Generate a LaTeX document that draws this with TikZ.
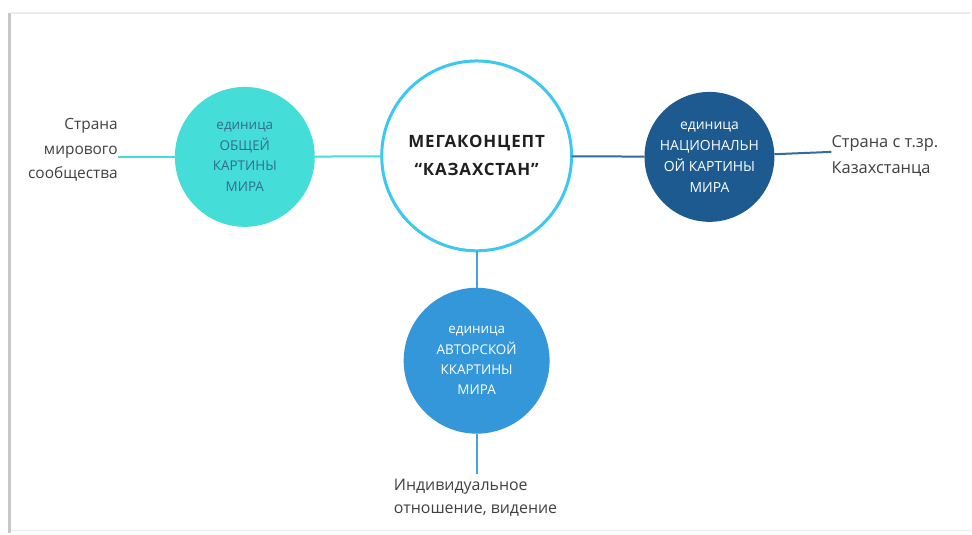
\documentclass[tikz,border=0pt]{standalone}
\usepackage{fontspec}
\setmainfont{Open Sans}
\usepackage{tkz-graph}

\definecolor{turq}{HTML}{45DDD8}
\definecolor{natblue}{HTML}{1C5A8F}
\definecolor{avtblue}{HTML}{3497D9}
\definecolor{megaring}{HTML}{3DC9EF}
\definecolor{obshtext}{HTML}{336C8C}
\definecolor{labgray}{HTML}{404040}

\begin{document}
\begin{tikzpicture}[x=1bp,y=-1bp]
\def \midy {156}
\tikzset{labeltext/.style = {inner sep=0pt, text=labgray, font=\fontsize{15.5}{25}\selectfont}}
% page
\fill[white] (0,0) rectangle (972,533);
\draw[line width=3bp, black!22] (10,13) -- (10,533);
\draw[line width=1.5bp, black!7] (11,13) -- (972,13);
\draw[black!8] (11,531) -- (972,531);
\useasboundingbox (0,0) rectangle (972,533);
%\draw[help lines, step=50] (0,0) grid (972,533);

   \tikzset{VertexStyle/.style = {shape = circle, draw = megaring, line width = 3bp, fill = white, minimum size = 190bp, inner sep = 0pt, align = center, text = black!88, font = \bfseries\fontsize{17}{28}\selectfont\addfontfeature{LetterSpace=5}}}
   \Vertex[x=477 ,y=\midy ,L={МЕГАКОНЦЕПТ\\“КАЗАХСТАН”}]{mega}
   \tikzset{VertexStyle/.style = {shape = circle, fill = turq, minimum size = 140bp, inner sep = 0pt, align = center, text = obshtext, font = \fontsize{13.5}{20.5}\selectfont}}
   \Vertex[x=245 ,y=157 ,L={единица\\ОБЩЕЙ\\КАРТИНЫ\\МИРА}]{obsh}
   \tikzset{VertexStyle/.style = {shape = circle, fill = natblue, minimum size = 130bp, inner sep = 0pt, align = center, text = white, font = \fontsize{14}{21}\selectfont}}
   \Vertex[x=710 ,y=157 ,L={единица\\НАЦИОНАЛЬН\\ОЙ КАРТИНЫ\\МИРА}]{nat}
   \tikzset{VertexStyle/.style = {shape = circle, fill = avtblue, minimum size = 146bp, inner sep = 0pt, align = center, text = white, font = \fontsize{13.5}{20.5}\selectfont}}
   \Vertex[x=477 ,y=361 ,L={единица\\АВТОРСКОЙ\\ККАРТИНЫ\\МИРА}]{avt}

   \node[labeltext, align=right, anchor=east] (strana) at (118,150) {Страна\\мирового\\сообщества};
   \node[labeltext, align=left, anchor=west, font=\fontsize{16.5}{26}\selectfont] (kaz) at (832,\midy) {Страна с т.зр.\\Казахстанца};
   \node[labeltext, align=left, anchor=west, font=\fontsize{16}{23}\selectfont] (ind) at (394,498.5) {Индивидуальное\\отношение, видение};

   \tikzset{EdgeStyle/.style = {line width=2bp, color=turq}}
	\Edge(mega)(obsh)
	\draw[EdgeStyle] (obsh) -- (obsh -| strana.east);
   \tikzset{EdgeStyle/.style = {line width=2bp, color=natblue!90}}
	\Edge(mega)(nat)
	\draw[EdgeStyle] (nat) -- ([yshift=4bp]kaz.west);
   \tikzset{EdgeStyle/.style = {line width=2bp, color=avtblue!90}}
	\Edge(mega)(avt)
	\draw[EdgeStyle] (avt) -- ([yshift=5bp]avt |- ind.north);
\end{tikzpicture}
\end{document}
